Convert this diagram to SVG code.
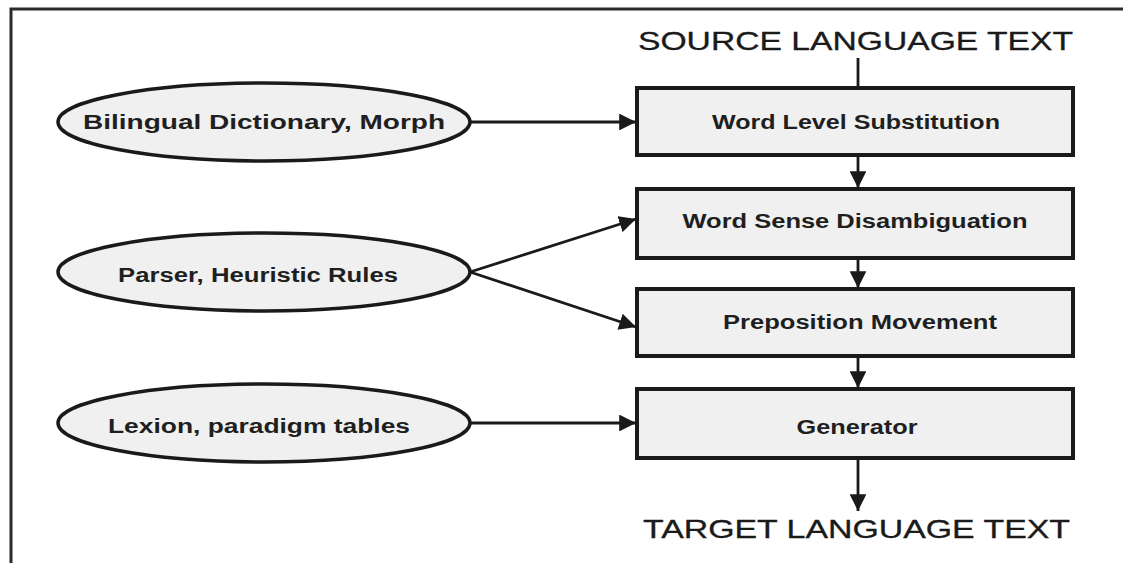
<svg xmlns="http://www.w3.org/2000/svg" width="1123" height="563" viewBox="0 0 1123 563">
<defs>
<style>
.frame{fill:none;stroke:#2a2a2a;stroke-width:3}
.box{fill:#eff0ef;stroke:#1a1a1a;stroke-width:4}
.oval{fill:#eff0ef;stroke:#1a1a1a;stroke-width:3.5}
.lbl{font-family:"Liberation Sans",Arial,sans-serif;font-weight:bold;font-size:20px;fill:#1f1f1f;text-anchor:middle}
.title{font-family:"Liberation Sans",Arial,sans-serif;font-size:25px;fill:#1a1a1a;stroke:#1a1a1a;stroke-width:0.3}
.conn{fill:none;stroke:#1a1a1a;stroke-width:2.8}
</style>
<marker id="ah" viewBox="0 0 10 10" refX="10" refY="5" markerWidth="6" markerHeight="6" markerUnits="strokeWidth" orient="auto">
<path d="M0,0 L10,5 L0,10 z" fill="#1a1a1a"/>
</marker>
</defs>
<rect width="1123" height="563" fill="#ffffff"/>
<path class="frame" d="M11,563 L11,9 L1123,9"/>
<g id="source">
<text class="title" x="638" y="50" textLength="435" lengthAdjust="spacingAndGlyphs">SOURCE LANGUAGE TEXT</text>
</g>
<g id="target">
<text class="title" x="643" y="538" textLength="427" lengthAdjust="spacingAndGlyphs">TARGET LANGUAGE TEXT</text>
</g>
<g id="dict">
<ellipse class="oval" cx="264" cy="122" rx="206" ry="39"/>
<text class="lbl" x="264" y="129" textLength="362" lengthAdjust="spacingAndGlyphs">Bilingual Dictionary, Morph</text>
</g>
<g id="parser">
<ellipse class="oval" cx="264" cy="272" rx="206" ry="39"/>
<text class="lbl" x="258" y="282" textLength="280" lengthAdjust="spacingAndGlyphs">Parser, Heuristic Rules</text>
</g>
<g id="lexicon">
<ellipse class="oval" cx="264" cy="423" rx="206" ry="39"/>
<text class="lbl" x="259" y="433" textLength="302" lengthAdjust="spacingAndGlyphs">Lexion, paradigm tables</text>
</g>
<g id="wls">
<rect class="box" x="637" y="88" width="436" height="67"/>
<text class="lbl" x="856" y="129" textLength="288" lengthAdjust="spacingAndGlyphs">Word Level Substitution</text>
</g>
<g id="wsd">
<rect class="box" x="637" y="189" width="436" height="69"/>
<text class="lbl" x="855" y="228" textLength="345" lengthAdjust="spacingAndGlyphs">Word Sense Disambiguation</text>
</g>
<g id="pm">
<rect class="box" x="637" y="289" width="436" height="67"/>
<text class="lbl" x="860" y="329" textLength="274" lengthAdjust="spacingAndGlyphs">Preposition Movement</text>
</g>
<g id="gen">
<rect class="box" x="637" y="389" width="436" height="69"/>
<text class="lbl" x="857" y="434" textLength="121" lengthAdjust="spacingAndGlyphs">Generator</text>
</g>
<g id="connectors">
<line class="conn" x1="858" y1="58" x2="858" y2="88"/>
<line class="conn" x1="858" y1="155" x2="858" y2="188" marker-end="url(#ah)"/>
<line class="conn" x1="858" y1="258" x2="858" y2="288" marker-end="url(#ah)"/>
<line class="conn" x1="858" y1="356" x2="858" y2="388" marker-end="url(#ah)"/>
<line class="conn" x1="858" y1="458" x2="858" y2="511" marker-end="url(#ah)"/>
<line class="conn" x1="470" y1="122" x2="636" y2="122" marker-end="url(#ah)"/>
<line class="conn" x1="470" y1="272" x2="636" y2="219" marker-end="url(#ah)"/>
<line class="conn" x1="470" y1="272" x2="636" y2="327" marker-end="url(#ah)"/>
<line class="conn" x1="470" y1="423" x2="636" y2="423" marker-end="url(#ah)"/>
</g>
</svg>
